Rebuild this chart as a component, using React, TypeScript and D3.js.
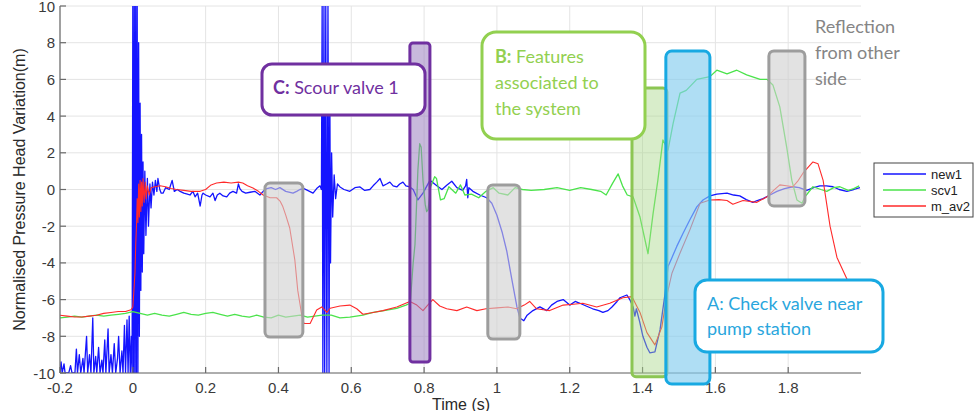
import React from "react";
import * as d3 from "d3";

type Pt = [number, number];

// ---- chart data (time in s, normalised head in m) ----
const new1: Pt[] = [
  [-0.200,-10],[-0.197,-9.4],[-0.194,-10],[-0.189,-9.5],[-0.186,-10],[-0.176,-10],[-0.171,-9.6],[-0.167,-10],[-0.159,-10],[-0.155,-8.7],[-0.152,-10],[-0.147,-9.0],[-0.143,-10],[-0.137,-9.2],[-0.134,-10],[-0.127,-8.0],[-0.124,-10],[-0.119,-9.0],[-0.115,-10],[-0.110,-7.0],[-0.107,-10],[-0.102,-9.1],[-0.099,-10],[-0.094,-8.6],[-0.090,-10],[-0.085,-9.3],[-0.082,-10],[-0.077,-8.2],[-0.074,-10],[-0.068,-7.6],[-0.065,-10],[-0.060,-9.0],[-0.056,-10],[-0.051,-8.4],[-0.047,-10],[-0.042,-9.2],[-0.039,-8.0],[-0.035,-10],[-0.030,-8.8],[-0.027,-10],[-0.023,-7.4],[-0.020,-10],[-0.016,-7.1],[-0.013,-10],[-0.010,-6.9],[-0.007,-10],[-0.004,-8.0],[-0.002,-10],
  [0.000,10],[0.002,-10],[0.004,10],[0.006,-10],[0.008,10],[0.010,-10],[0.012,10],[0.014,-10],[0.016,8.0],[0.018,-8.0],[0.020,4.7],[0.022,-5.5],[0.024,3.0],[0.026,-4.5],[0.028,1.5],[0.030,-3.5],[0.033,1.0],[0.036,-2.5],[0.040,0.6],[0.043,-2.0],[0.047,0.3],[0.050,-1.0],[0.054,0.4],[0.058,-0.3],[0.062,0.5],[0.066,-0.1],[0.069,0.6],[0.074,0.0],[0.078,-0.2],[0.083,-0.2],[0.090,0.1],[0.100,0.0],[0.108,0.5],[0.114,-0.1],[0.122,0.0],[0.130,-0.1],[0.140,-0.2],[0.150,-0.25],[0.157,-0.3],[0.165,-0.1],[0.171,-0.4],[0.178,-0.2],[0.185,-0.9],[0.190,-0.3],[0.193,-0.2],[0.200,-0.3],[0.212,-0.4],[0.220,-0.2],[0.226,-0.6],[0.232,-0.3],[0.239,-0.2],[0.248,-0.35],[0.258,-0.4],[0.266,-0.2],[0.275,-0.1],[0.285,-0.2],[0.290,0.3],[0.294,0.05],[0.300,-0.1],[0.310,-0.2],[0.322,-0.15],[0.335,-0.1],[0.349,-0.3],[0.358,-0.1],[0.368,0.05],[0.380,0.1],[0.392,0.0],[0.404,0.1],[0.420,-0.1],[0.440,-0.2],[0.450,-0.1],[0.459,0.0],[0.470,0.05],[0.480,-0.05],[0.495,-0.2],[0.505,0.05],[0.514,0.2],[0.518,0.0],
  [0.520,10],[0.522,-10],[0.525,10],[0.527,-10],[0.530,10],[0.533,-10],[0.536,10],[0.539,-10],[0.541,6],[0.543,-4],[0.546,2],[0.549,-1.5],[0.553,0.8],[0.557,-0.5],[0.562,0.3],[0.569,0.14],[0.580,0.0],[0.596,-0.1],[0.610,0.1],[0.624,0.14],[0.637,-0.05],[0.651,0.0],[0.660,0.2],[0.670,0.4],[0.679,0.6],[0.687,0.2],[0.697,0.3],[0.706,0.4],[0.715,0.2],[0.725,0.14],[0.733,0.3],[0.742,0.4],[0.750,0.2],[0.761,0.14],[0.770,0.0],[0.783,-0.57],[0.797,-0.2],[0.816,0.5],[0.835,0.2],[0.849,0.0],[0.863,0.25],[0.876,0.45],[0.890,0.1],[0.906,-0.05],[0.914,0.2],[0.917,0.55],[0.920,-0.45],[0.923,0.1],[0.934,-0.1],[0.953,-0.3],[0.972,-0.45],[0.986,-0.75],[1.000,-1.4],[1.014,-2.3],[1.027,-3.35],[1.041,-4.9],[1.055,-6.4],[1.063,-7.0],[1.074,-7.15],[1.083,-6.85],[1.099,-6.6],[1.118,-6.4],[1.137,-6.6],[1.150,-6.3],[1.165,-6.1],[1.182,-6.0],[1.200,-6.3],[1.215,-6.1],[1.228,-6.2],[1.245,-6.35],[1.263,-6.5],[1.280,-6.6],[1.291,-6.7],[1.305,-6.6],[1.316,-6.4],[1.330,-6.1],[1.338,-5.9],[1.357,-5.75],[1.365,-6.0],[1.374,-6.4],[1.379,-6.9],[1.383,-6.5],[1.392,-7.2],[1.401,-8.0],[1.412,-8.6],[1.420,-8.9],[1.434,-8.85],[1.448,-7.65],[1.462,-5.65],[1.470,-4.2],[1.481,-3.7],[1.494,-3.1],[1.511,-2.4],[1.530,-1.65],[1.549,-0.95],[1.566,-0.57],[1.585,-0.35],[1.604,-0.25],[1.632,-0.2],[1.650,-0.3],[1.667,-0.35],[1.685,-0.55],[1.703,-0.7],[1.715,-0.6],[1.731,-0.5],[1.750,-0.3],[1.769,-0.1],[1.790,0.05],[1.813,0.15],[1.830,0.1],[1.851,-0.05],[1.870,0.1],[1.887,0.2],[1.905,0.2],[1.923,0.15],[1.940,0.0],[1.961,-0.1],[1.980,0.0],[1.997,0.1],
];

const scv1: Pt[] = [
  [-0.200,-7.0],[-0.180,-6.95],[-0.160,-6.9],[-0.140,-6.95],[-0.120,-6.9],[-0.100,-6.85],[-0.080,-6.9],[-0.060,-6.85],[-0.040,-6.8],[-0.020,-6.75],[0.000,-6.65],[0.020,-6.75],[0.040,-6.85],[0.060,-6.75],[0.080,-6.85],[0.100,-6.9],[0.120,-6.8],[0.140,-6.7],[0.160,-6.8],[0.180,-6.85],[0.200,-6.75],[0.220,-6.7],[0.240,-6.8],[0.260,-6.9],[0.280,-6.8],[0.300,-6.9],[0.320,-6.95],[0.340,-6.85],[0.360,-6.95],[0.380,-7.0],[0.400,-6.85],[0.420,-6.95],[0.440,-6.9],[0.460,-6.85],[0.480,-6.95],[0.500,-6.9],[0.520,-6.85],[0.545,-6.85],[0.569,-7.0],[0.596,-6.95],[0.632,-6.85],[0.660,-6.7],[0.690,-6.6],[0.725,-6.48],[0.750,-6.3],[0.762,-6.2],[0.770,-4.0],[0.775,-3.0],[0.779,-1.0],[0.783,1.06],[0.788,2.5],[0.792,2.3],[0.797,0.5],[0.803,-0.8],[0.807,-1.2],[0.811,-1.1],[0.818,0.15],[0.829,0.7],[0.834,0.6],[0.845,-0.57],[0.855,-0.5],[0.868,0.15],[0.887,-0.2],[0.900,0.25],[0.912,-0.3],[0.930,-0.25],[0.950,-0.45],[0.970,-0.1],[0.990,0.1],[1.006,-0.2],[1.030,-0.3],[1.050,0.1],[1.070,0.0],[1.094,-0.05],[1.130,0.0],[1.165,0.1],[1.200,-0.05],[1.230,0.1],[1.260,0.0],[1.285,-0.1],[1.300,-0.3],[1.318,0.35],[1.333,0.85],[1.345,0.2],[1.358,-0.3],[1.374,-0.4],[1.393,-1.5],[1.415,-3.5],[1.429,-1.3],[1.442,0.5],[1.456,2.7],[1.470,2.15],[1.484,3.6],[1.503,5.25],[1.520,5.4],[1.549,6.0],[1.585,6.15],[1.604,6.5],[1.632,6.3],[1.659,6.5],[1.686,6.25],[1.723,6.0],[1.742,6.0],[1.758,5.7],[1.777,4.5],[1.796,2.3],[1.810,0.5],[1.824,-0.57],[1.838,-0.75],[1.846,-0.4],[1.868,0.15],[1.890,0.0],[1.906,-0.1],[1.925,0.1],[1.942,0.15],[1.965,-0.05],[1.980,0.05],[1.995,0.2],
];

const mAv2: Pt[] = [
  [-0.200,-6.85],[-0.180,-6.9],[-0.160,-6.95],[-0.140,-6.95],[-0.120,-6.9],[-0.100,-6.85],[-0.080,-6.75],[-0.060,-6.7],[-0.040,-6.65],[-0.020,-6.65],[-0.005,-6.55],[0.000,-6.4],[0.003,-5.5],[0.006,-4.5],[0.008,-3.0],[0.010,-2.0],[0.012,-0.5],[0.014,-1.8],[0.016,0.3],[0.018,-1.5],[0.020,0.5],[0.022,-1.2],[0.024,0.4],[0.026,-0.9],[0.028,0.6],[0.031,-0.7],[0.034,0.4],[0.037,-0.5],[0.040,0.2],[0.045,-0.3],[0.050,0.1],[0.060,0.15],[0.075,0.2],[0.090,0.15],[0.105,0.05],[0.120,0.0],[0.140,-0.05],[0.160,-0.1],[0.185,-0.1],[0.200,0.0],[0.215,0.25],[0.230,0.35],[0.250,0.4],[0.270,0.35],[0.290,0.4],[0.302,0.35],[0.315,0.2],[0.330,0.08],[0.345,-0.1],[0.358,-0.3],[0.377,-0.45],[0.395,-0.45],[0.405,-0.65],[0.412,-0.93],[0.420,-1.4],[0.431,-2.1],[0.445,-3.84],[0.453,-5.5],[0.464,-6.84],[0.470,-7.3],[0.487,-7.3],[0.497,-6.9],[0.505,-6.57],[0.519,-6.4],[0.533,-6.7],[0.542,-6.47],[0.569,-6.35],[0.596,-6.3],[0.615,-6.5],[0.632,-6.8],[0.660,-6.7],[0.687,-6.6],[0.725,-6.4],[0.761,-6.1],[0.780,-6.3],[0.797,-6.6],[0.810,-6.3],[0.824,-6.0],[0.843,-6.35],[0.862,-6.5],[0.890,-6.6],[0.917,-6.4],[0.945,-6.6],[0.970,-6.5],[1.000,-6.45],[1.030,-6.4],[1.054,-6.5],[1.075,-6.3],[1.090,-6.1],[1.109,-6.5],[1.145,-6.6],[1.182,-6.3],[1.210,-6.25],[1.236,-6.2],[1.274,-6.4],[1.310,-6.2],[1.346,-5.9],[1.371,-5.84],[1.393,-6.7],[1.412,-7.8],[1.434,-8.47],[1.453,-7.5],[1.466,-5.85],[1.481,-4.55],[1.503,-3.46],[1.530,-2.2],[1.558,-0.75],[1.585,-0.57],[1.610,-0.55],[1.632,-0.6],[1.648,-0.8],[1.676,-0.6],[1.714,-0.7],[1.742,-0.4],[1.760,-0.05],[1.777,0.25],[1.795,0.2],[1.813,0.15],[1.828,0.5],[1.841,0.9],[1.868,1.5],[1.882,1.4],[1.896,0.5],[1.915,-2.0],[1.934,-3.7],[1.962,-4.9],[1.990,-5.6],
];

const xTicks = [-0.2, 0, 0.2, 0.4, 0.6, 0.8, 1, 1.2, 1.4, 1.6, 1.8];
const yTicks = [-10, -8, -6, -4, -2, 0, 2, 4, 6, 8, 10];
const seriesNames = ["new1", "scv1", "m_av2"];

// highlighted time windows: [t0, t1, vTop, vBottom]
const grayWindows: [number, number, number, number][] = [
  [0.363, 0.467, 0.35, -8.04],
  [0.975, 1.063, 0.25, -8.15],
  [1.747, 1.846, 7.55, -0.9],
];
const scourWindow: [number, number, number, number] = [0.761, 0.816, 7.98, -9.4];
const systemWindow: [number, number, number, number] = [1.371, 1.467, 5.53, -10.2];
const checkValveWindow: [number, number, number, number] = [1.464, 1.585, 7.55, -10.6];

const W = 980;
const H = 411;
const AX = "Liberation Sans, Arial, sans-serif";
const CAL = "Lato, Carlito, Calibri, sans-serif";

export default function App() {
  const x = d3.scaleLinear().domain([-0.2, 2.0]).range([60, 861]);
  const y = d3.scaleLinear().domain([-10, 10]).range([373, 6]);
  const line = d3
    .line<Pt>()
    .x((d) => x(d[0]))
    .y((d) => y(d[1]));

  const colors = { new1: "#1414ff", scv1: "#4be34b", m_av2: "#ff2a2a" };

  const rectOf = (w: [number, number, number, number]) => ({
    x: x(w[0]),
    y: y(w[2]),
    width: x(w[1]) - x(w[0]),
    height: y(w[3]) - y(w[2]),
  });

  const [x0, x1] = x.range();
  const [yb, yt] = y.range();

  return (
    <svg
      width={W}
      height={H}
      style={{ position: "absolute", left: 0, top: 0, background: "#fff" }}
    >
      <defs>
        <clipPath id="plotArea">
          <rect x={x0} y={yt} width={x1 - x0} height={yb - yt} />
        </clipPath>
      </defs>

      {/* grid */}
      <g stroke="#e4e4e4" strokeWidth={1}>
        {xTicks.map((t) => (
          <line key={"gx" + t} x1={x(t)} x2={x(t)} y1={yt} y2={yb} />
        ))}
        {yTicks.map((v) => (
          <line key={"gy" + v} x1={x0} x2={x1} y1={y(v)} y2={y(v)} />
        ))}
      </g>

      {/* series */}
      <g clipPath="url(#plotArea)" fill="none" strokeLinejoin="round">
        <path d={line(new1) ?? ""} stroke={colors.new1} strokeWidth={1.3} />
        <path d={line(scv1) ?? ""} stroke={colors.scv1} strokeWidth={1.3} />
        <path d={line(mAv2) ?? ""} stroke={colors.m_av2} strokeWidth={1.1} />
      </g>

      {/* axes */}
      <g stroke="#6a6a6a" strokeWidth={1.2}>
        <line x1={x0} x2={x1} y1={yb} y2={yb} />
        <line x1={x0} x2={x0} y1={yt} y2={yb} />
        {xTicks.map((t) => (
          <line key={"tx" + t} x1={x(t)} x2={x(t)} y1={yb} y2={yb - 6} />
        ))}
        {yTicks.map((v) => (
          <line key={"ty" + v} x1={x0} x2={x0 + 6} y1={y(v)} y2={y(v)} />
        ))}
      </g>
      <g fontFamily={AX} fontSize={15} fill="#3a3a3a">
        {xTicks.map((t) => (
          <text key={"lx" + t} x={x(t)} y={393} textAnchor="middle">
            {String(t)}
          </text>
        ))}
        {yTicks.map((v) => (
          <text key={"ly" + v} x={55} y={y(v) + 5.5} textAnchor="end">
            {String(v)}
          </text>
        ))}
      </g>
      <text
        x={461}
        y={410}
        textAnchor="middle"
        fontFamily={AX}
        fontSize={16}
        fill="#2a2a2a"
      >
        Time (s)
      </text>
      <text
        transform={`translate(25,${(yt + yb) / 2}) rotate(-90)`}
        textAnchor="middle"
        fontFamily={AX}
        fontSize={16}
        fill="#2a2a2a"
      >
        Normalised Pressure Head Variation(m)
      </text>

      {/* highlighted windows */}
      {grayWindows.map((w, i) => {
        const r = rectOf(w);
        return (
          <rect
            key={"gw" + i}
            {...r}
            rx={5}
            fill="#cfcfcf"
            fillOpacity={0.6}
            stroke="#9d9d9d"
            strokeWidth={3}
          />
        );
      })}
      <rect
        {...rectOf(scourWindow)}
        rx={3}
        fill="#9b7fc0"
        fillOpacity={0.55}
        stroke="#7030a0"
        strokeWidth={3}
      />
      <rect
        {...rectOf(systemWindow)}
        rx={4}
        fill="#a9d88a"
        fillOpacity={0.45}
        stroke="#8cc653"
        strokeWidth={3}
      />
      <rect
        {...rectOf(checkValveWindow)}
        rx={6}
        fill="#84cdee"
        fillOpacity={0.65}
        stroke="#18a9e2"
        strokeWidth={3}
      />

      {/* callouts */}
      <g fontFamily={CAL} fontSize={18}>
        <rect x={262} y={64} width={163} height={51} rx={10} fill="#fff" stroke="#7030a0" strokeWidth={3} />
        <text x={273} y={94} fill="#7030a0">
          <tspan fontWeight="bold">C:</tspan> Scour valve 1
        </text>

        <rect x={482} y={32} width={163} height={107} rx={14} fill="#fff" stroke="#92d050" strokeWidth={3} />
        <text x={495} y={63} fill="#92d050">
          <tspan fontWeight="bold">B:</tspan> Features
        </text>
        <text x={495} y={89} fill="#92d050">associated to</text>
        <text x={495} y={115} fill="#92d050">the system</text>

        <text x={815} y={33} fill="#858585">Reflection</text>
        <text x={815} y={59} fill="#858585">from other</text>
        <text x={815} y={85} fill="#858585">side</text>

        <rect x={695} y={280} width={188} height={72} rx={12} fill="#fff" stroke="#18a9e2" strokeWidth={3} />
        <text x={707} y={310} fill="#2aa6dd">A: Check valve near</text>
        <text x={707} y={335} fill="#2aa6dd">pump station</text>
      </g>

      {/* legend */}
      <g fontFamily={AX} fontSize={13}>
        <rect x={874} y={163} width={99} height={54} fill="#fff" stroke="#444" strokeWidth={1} />
        {seriesNames.map((n, i) => (
          <g key={n}>
            <line
              x1={883}
              x2={926}
              y1={174 + i * 16}
              y2={174 + i * 16}
              stroke={colors[n as keyof typeof colors]}
              strokeWidth={1.3}
            />
            <text x={931} y={174 + i * 16 + 4.5} fill="#222">
              {n}
            </text>
          </g>
        ))}
      </g>
    </svg>
  );
}
